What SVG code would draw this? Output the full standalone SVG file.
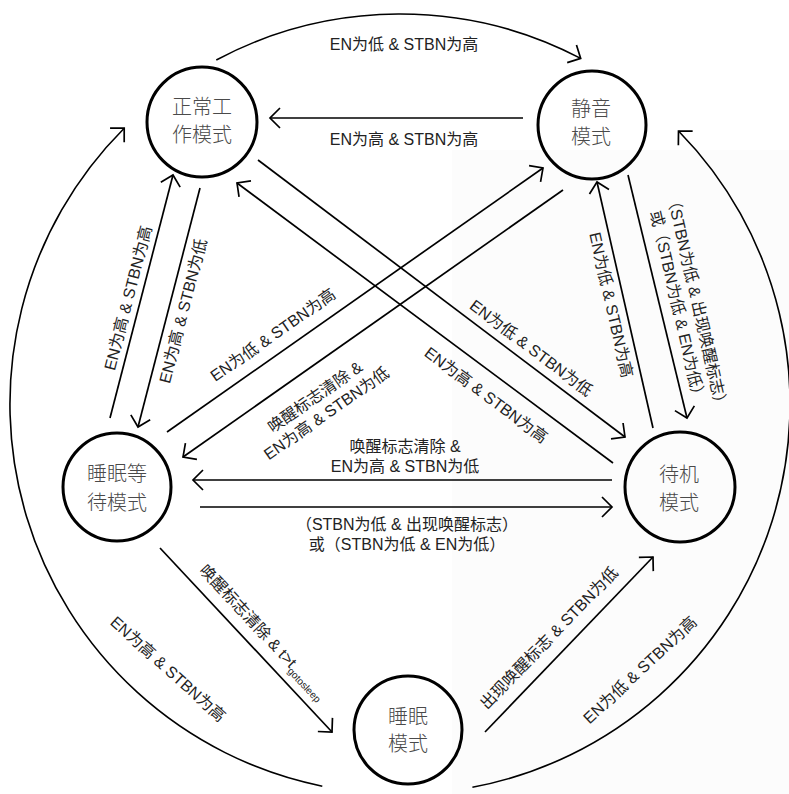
<svg xmlns="http://www.w3.org/2000/svg" width="789" height="794" viewBox="0 0 789 794">
<defs>
<style>
.node circle{fill:none;stroke:#000;stroke-width:3}
.node text{font-family:"Liberation Sans","Noto Sans CJK SC",sans-serif;font-size:20px;font-weight:300;fill:#4a4a4a;text-anchor:middle}
.edge{fill:none;stroke:#000;stroke-width:1.7}
.arc{fill:none;stroke:#000;stroke-width:1.6}
.lbl{font-family:"Liberation Sans","Noto Sans CJK SC",sans-serif;font-size:16px;fill:#222;text-anchor:middle}
</style>
<marker id="arr" viewBox="-12 -12 14 24" markerWidth="14" markerHeight="24" refX="0" refY="0" orient="auto" markerUnits="userSpaceOnUse" overflow="visible">
<path d="M-10,-10 L0,0 L-10,10" fill="none" stroke="#000" stroke-width="1.7"/>
</marker>
</defs>
<rect x="0" y="0" width="789" height="794" fill="#ffffff"/>
<rect x="452" y="150" width="337" height="644" fill="#fcfcfc"/>

<g id="connectors">
<path class="arc" d="M216.3,60 A390,390 0 0 1 580.7,58.4" marker-end="url(#arr)"/>
<path class="arc" d="M322.3,786.2 A390,390 0 0 1 124.2,128.2" marker-end="url(#arr)"/>
<path class="arc" d="M472.4,787.3 A390,390 0 0 0 678.5,131" marker-end="url(#arr)"/>
<line class="edge" x1="523" y1="118" x2="270" y2="118" marker-end="url(#arr)"/>
<line class="edge" x1="110" y1="418" x2="173" y2="175" marker-end="url(#arr)"/>
<line class="edge" x1="200" y1="188" x2="138" y2="427" marker-end="url(#arr)"/>
<line class="edge" x1="167" y1="432" x2="543" y2="168" marker-end="url(#arr)"/>
<line class="edge" x1="563" y1="190" x2="183" y2="457" marker-end="url(#arr)"/>
<line class="edge" x1="258" y1="160" x2="625" y2="437" marker-end="url(#arr)"/>
<line class="edge" x1="613" y1="463" x2="237" y2="183" marker-end="url(#arr)"/>
<line class="edge" x1="653" y1="428" x2="597" y2="182" marker-end="url(#arr)"/>
<line class="edge" x1="628" y1="175" x2="687" y2="418" marker-end="url(#arr)"/>
<line class="edge" x1="612" y1="480" x2="193" y2="480" marker-end="url(#arr)"/>
<line class="edge" x1="200" y1="507" x2="612" y2="507" marker-end="url(#arr)"/>
<line class="edge" x1="160" y1="548" x2="332" y2="732" marker-end="url(#arr)"/>
<line class="edge" x1="485" y1="732" x2="653" y2="557" marker-end="url(#arr)"/>
</g>

<g id="labels">
<text class="lbl" x="404" y="50">EN为低 &amp; STBN为高</text>
<text class="lbl" x="404" y="145">EN为高 &amp; STBN为高</text>
<text class="lbl" transform="translate(128,298) rotate(-75.5)" y="5.5">EN为高 &amp; STBN为高</text>
<text class="lbl" transform="translate(183,311) rotate(-75.5)" y="5.5">EN为高 &amp; STBN为低</text>
<text class="lbl" transform="translate(273,335) rotate(-35)" y="5.5">EN为低 &amp; STBN为高</text>
<g transform="translate(315,397) rotate(-35)">
<text class="lbl" y="5.5">唤醒标志清除 &amp;</text>
<text class="lbl" y="25.5">EN为高 &amp; STBN为低</text>
</g>
<text class="lbl" transform="translate(531,348) rotate(37)" y="5.5">EN为低 &amp; STBN为低</text>
<text class="lbl" transform="translate(486,395) rotate(36.7)" y="5.5">EN为高 &amp; STBN为高</text>
<text class="lbl" transform="translate(611,305) rotate(77.2)" y="5.5">EN为低 &amp; STBN为高</text>
<g transform="translate(697,302) rotate(77)">
<text class="lbl" y="5.5">（STBN为低 &amp; 出现唤醒标志）</text>
<text class="lbl" y="25.5">或（STBN为低 &amp; EN为低）</text>
</g>
<text class="lbl" x="405" y="452">唤醒标志清除 &amp;</text>
<text class="lbl" x="405" y="472">EN为高 &amp; STBN为低</text>
<text class="lbl" x="407" y="530">（STBN为低 &amp; 出现唤醒标志）</text>
<text class="lbl" x="407" y="550">或（STBN为低 &amp; EN为低）</text>
<text class="lbl" transform="translate(263,632) rotate(47)" y="5.5">唤醒标志清除 &amp; t&gt;t<tspan font-size="10" dy="4">gotosleep</tspan></text>
<text class="lbl" transform="translate(168,669) rotate(42)" y="5.5">EN为高 &amp; STBN为高</text>
<text class="lbl" transform="translate(549,638) rotate(-46)" y="5.5">出现唤醒标志 &amp; STBN为低</text>
<text class="lbl" transform="translate(640,670) rotate(-43)" y="5.5">EN为低 &amp; STBN为高</text>
</g>

<g id="node-normal" class="node">
<circle cx="202" cy="122" r="55"/>
<text x="202" y="114">正常工</text>
<text x="202" y="142">作模式</text>
</g>
<g id="node-mute" class="node">
<circle cx="592" cy="125" r="54"/>
<text x="591" y="116">静音</text>
<text x="591" y="144">模式</text>
</g>
<g id="node-sleepwait" class="node">
<circle cx="117" cy="487" r="54"/>
<text x="117" y="481">睡眠等</text>
<text x="117" y="510">待模式</text>
</g>
<g id="node-standby" class="node">
<circle cx="680" cy="487" r="55"/>
<text x="679" y="482">待机</text>
<text x="679" y="510">模式</text>
</g>
<g id="node-sleep" class="node">
<circle cx="408" cy="730" r="54"/>
<text x="408" y="724">睡眠</text>
<text x="408" y="751">模式</text>
</g>
</svg>
